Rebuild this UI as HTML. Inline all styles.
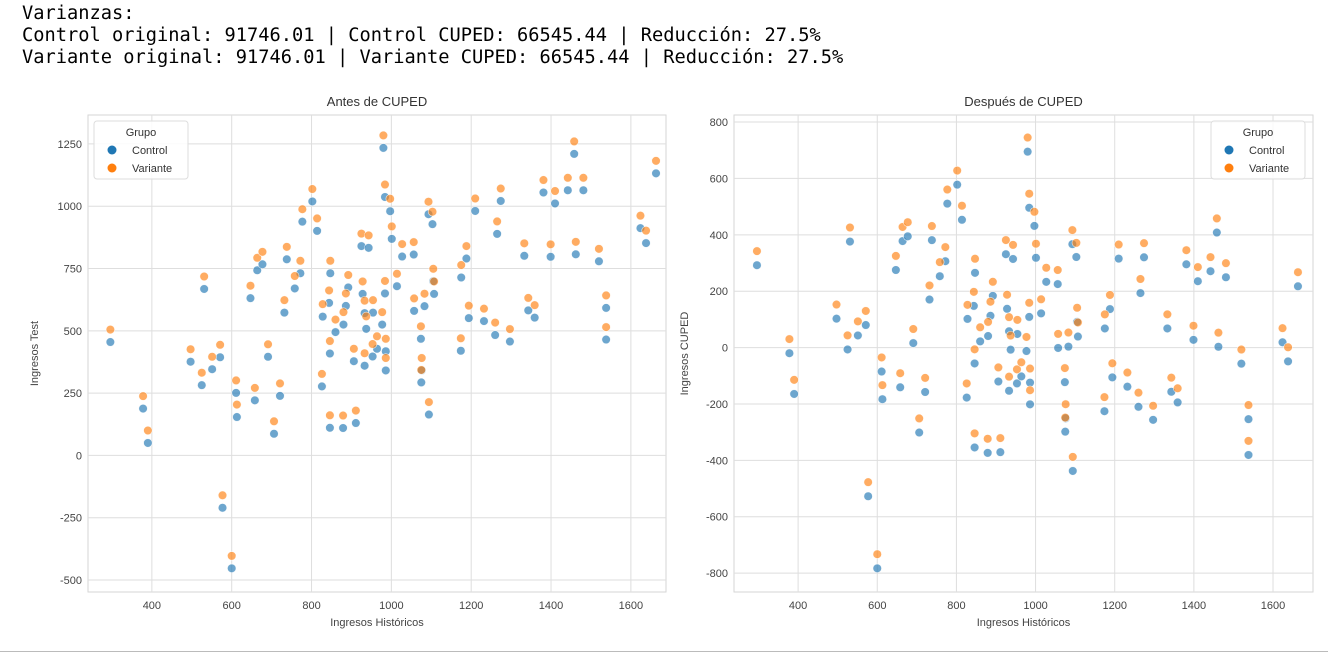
<!DOCTYPE html>
<html><head><meta charset="utf-8"><style>
body{margin:0;background:#fff;width:1328px;height:654px;overflow:hidden;position:relative}
#txt{position:absolute;left:22px;top:3px;font-family:"DejaVu Sans Mono","Liberation Mono",monospace;font-size:18.7px;line-height:22px;color:#000;white-space:pre}
#sep{position:absolute;left:0;top:651px;width:1328px;height:1px;background:#bbb}
svg{position:absolute;left:0;top:0}
</style></head><body>
<div id="txt">Varianzas:
Control original: 91746.01 | Control CUPED: 66545.44 | Reducción: 27.5%
Variante original: 91746.01 | Variante CUPED: 66545.44 | Reducción: 27.5%</div>
<div id="sep"></div>
<svg id="chart" width="1328" height="654"></svg>
<script>
const hist = [296,378,390,497,525,531,551,571,577,600,611,613,647,658,664,677,691,721,706,732,738,758,772,777,802,814,826,828,844,846,847,846,860,879,880,886,892,906,911,925,933,928,933,937,943,953,954,964,977,980,984,984,986,986,997,1001,1014,1027,1056,1057,1083,1074,1076,1075,1094,1093,1103,1107,1105,1175,1174,1188,1194,1210,1232,1260,1265,1274,1297,1333,1343,1359,1381,1399,1410,1442,1458,1462,1481,1520,1538,1538,1624,1638,1663];
const ctrlTest = [455,188,50,376,282,668,346,394,-210,-453,251,154,631,221,743,767,396,239,87,573,787,670,731,938,1019,901,277,557,612,409,731,111,495,110,525,600,674,378,130,840,360,648,571,508,833,397,573,428,525,1234,1037,650,418,341,980,869,679,798,806,580,599,468,341,293,164,968,928,648,699,714,420,790,551,981,539,483,889,1021,457,801,582,553,1055,797,1011,1064,1210,807,1064,779,592,465,912,852,1132];
const varTest = [505,238,100,426,332,718,396,444,-160,-403,301,204,681,271,793,817,446,289,137,623,837,720,781,988,1069,951,327,607,662,459,781,161,545,160,575,650,724,428,180,890,410,698,621,558,883,447,623,478,575,1284,1087,700,468,391,1030,919,729,848,856,630,649,518,391,343,214,1018,978,698,749,764,470,840,601,1031,589,533,939,1071,507,851,632,603,1105,847,1061,1114,1260,857,1114,829,642,515,962,902,1182];
const theta = 0.55;
const xTicks = [400,600,800,1000,1200,1400,1600];
const yTicksL = [-500,-250,0,250,500,750,1000,1250];
const yTicksR = [-800,-600,-400,-200,0,200,400,600,800];
const ctrlCuped = ctrlTest.map((y,i)=>y-theta*hist[i]);
const varCuped = varTest.map((y,i)=>y-theta*hist[i]);

const NS="http://www.w3.org/2000/svg";
const svg=document.getElementById('chart');
function mk(tag,attrs,parent){const e=document.createElementNS(NS,tag);for(const k in attrs)e.setAttribute(k,attrs[k]);(parent||svg).appendChild(e);return e;}
function txt(s,attrs,parent){const e=mk('text',Object.assign({'font-family':'Liberation Sans, Arial, sans-serif'},attrs),parent);e.textContent=s;return e;}

function panel(cfg){
  const g=mk('g',{});
  
  
  const {L,T,R,B,x0,x1,y0,y1}=cfg;
  const sx=v=>L+(v-x0)/(x1-x0)*(R-L);
  const sy=v=>B-(v-y0)/(y1-y0)*(B-T);
  mk('rect',{x:L,y:T,width:R-L,height:B-T,fill:'#fff',stroke:'#d6d6d6','stroke-width':1},g);
  xTicks.forEach(t=>{const x=sx(t);
    const l=mk('line',{x1:x,x2:x,y1:T,y2:B,stroke:'#dedede','stroke-width':1},g);
    
    const tl=txt(String(t),{x:x,y:B+17,'font-size':11,fill:'#444','text-anchor':'middle'},g);
    });
  cfg.yt.forEach(t=>{const y=sy(t);
    const l=mk('line',{x1:L,x2:R,y1:y,y2:y,stroke:'#dedede','stroke-width':1},g);
    
    const tl=txt(String(t),{x:L-6,y:y+4,'font-size':11,fill:'#444','text-anchor':'end'},g);
    });
  const ti=txt(cfg.title,{x:(L+R)/2,y:T-9,'font-size':13,fill:'#333','text-anchor':'middle'},g);
  
  const xl=txt('Ingresos Históricos',{x:(L+R)/2,y:B+34,'font-size':11,fill:'#444','text-anchor':'middle'},g);
  
  const yx=L-cfg.ylOff, yy=(T+B)/2;
  const yl=txt(cfg.ylabel,{x:yx,y:yy,'font-size':11,fill:'#444','text-anchor':'middle',transform:`rotate(-90 ${yx} ${yy})`},g);
  
  const series=[[cfg.ctrl,'#1f77b4','control-point'],[cfg.vari,'#ff7f0e','variante-point']];
  series.forEach(([ys,col,nm])=>{ys.forEach((v,i)=>{
    const c=mk('circle',{cx:sx(hist[i]),cy:sy(v),r:4.3,fill:col,'fill-opacity':0.65,stroke:'#fff','stroke-width':0.6,'stroke-opacity':0.8},g);
    });});
  const lg=mk('g',{},g);
  
  const lx=cfg.legX, ly=T+6;
  mk('rect',{x:lx,y:ly,width:94,height:58,rx:3,fill:'#fff','fill-opacity':0.85,stroke:'#ddd'},lg);
  txt('Grupo',{x:lx+47,y:ly+15,'font-size':11,fill:'#333','text-anchor':'middle'},lg);
  [['Control','#1f77b4'],['Variante','#ff7f0e']].forEach(([n,c],k)=>{
    const e=mk('g',{},lg);
    
    mk('circle',{cx:lx+18,cy:ly+29+k*18,r:4.5,fill:c},e);
    txt(n,{x:lx+38,y:ly+33+k*18,'font-size':11,fill:'#333'},e);});
}
panel({name:'before-cuped-chart',title:'Antes de CUPED',ylabel:'Ingresos Test',L:88,T:115,R:666,B:592,x0:240,x1:1688,y0:-548,y1:1366,yt:yTicksL,ctrl:ctrlTest,vari:varTest,legX:94,ylOff:50});
panel({name:'after-cuped-chart',title:'Después de CUPED',ylabel:'Ingresos CUPED',L:734,T:115,R:1313,B:592,x0:238,x1:1701,y0:-867,y1:825,yt:yTicksR,ctrl:ctrlCuped,vari:varCuped,legX:1211,ylOff:46});
</script>
</body></html>
